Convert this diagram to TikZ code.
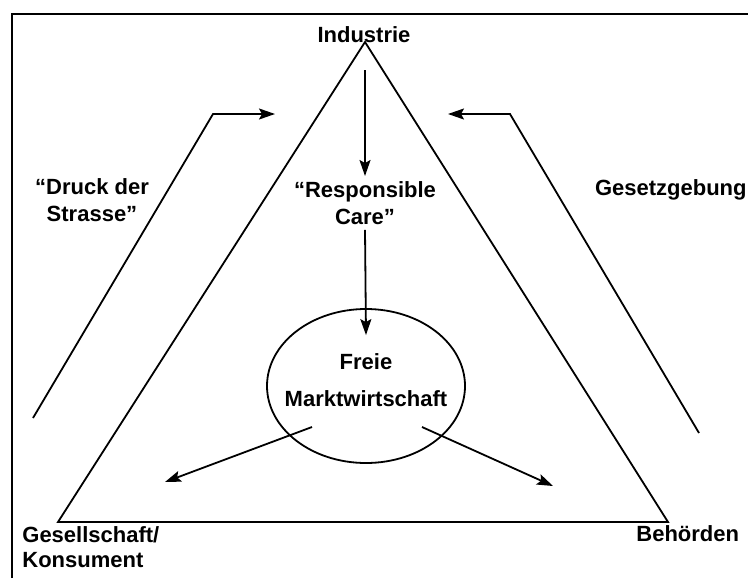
\documentclass[tikz,border=0pt]{standalone}
\usepackage{fontspec}
\setmainfont{Liberation Sans}
\usetikzlibrary{arrows.meta,shapes,calc,positioning}

\begin{document}
\begin{tikzpicture}[x=0.5pt, y=-0.5pt,
    lbl/.style={inner sep=2.5pt, align=center},
    ln/.style={line width=0.9pt},
    arr/.style={line width=0.9pt, -{Stealth[length=8pt,width=5.5pt,inset=1.5pt]}}]
		\tikzstyle{every node}=[font=\fontsize{11}{13.5}\selectfont\bfseries]
		\useasboundingbox (0,0) rectangle (748,578);
		\draw [line width=1pt] (12,578) -- (12,14) -- (748,14);
		% triangle
		\coordinate (top) at (365,42);
		\coordinate (lc) at (58,522);
		\coordinate (rc) at (668,522);
		\draw [ln] (top) -- (lc) -- (rc) -- cycle;
		% labels
		\node [lbl] (industrie) at (364,35) {Industrie};
		\node [lbl] (resp) at (365,203) {“Responsible\\Care”};
		\node [lbl] (druck) at (92,200) {“Druck der\\Strasse”};
		\node [lbl, anchor=east, inner sep=0pt] (gesetz) at (747,190) {Gesetzgebung};
		\node [ln, draw, ellipse, minimum width=99pt, minimum height=77pt] (markt) at (366,386) {};
		\node [lbl] (frei) at (366,380) {Freie\\[5pt]Marktwirtschaft};
		\node [anchor=north west, align=left, inner sep=0pt] (gesell) at (22,526) {Gesellschaft/\\[-1pt]Konsument};
		\node [anchor=base west, inner sep=0pt] (behoerden) at (636,541) {Behörden};
		% arrows
		\coordinate (indout) at (365,70);
		\draw [arr] (indout) -- (resp.north);
		\draw [arr] (resp.south) -- ([shift={(0,27)}]markt.north);
		\coordinate (gesin) at (165,482);
		\coordinate (behin) at (553,486);
		\draw [arr] ([shift={(-54,41)}]markt.center) -- (gesin);
		\draw [arr] ([shift={(56,41)}]markt.center) -- (behin);
		\coordinate (ls) at (33,418);
		\coordinate (lk) at (213,114);
		\coordinate (le) at (275,114);
		\draw [arr] (ls) -- (lk) -- (le);
		\coordinate (rs) at (699,433);
		\coordinate (rk) at (510,114);
		\coordinate (re) at (448,114);
		\draw [arr] (rs) -- (rk) -- (re);
		\end{tikzpicture}
\end{document}
